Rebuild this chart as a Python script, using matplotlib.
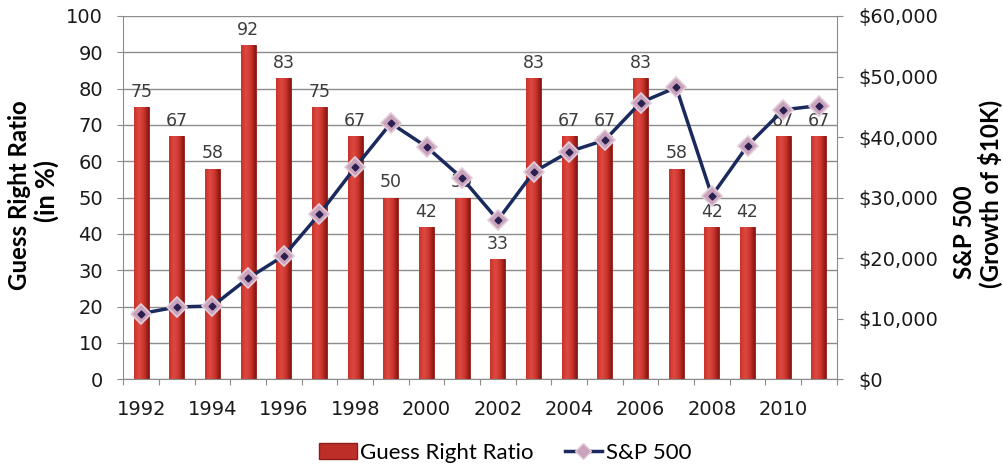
import matplotlib
matplotlib.use("Agg")
import matplotlib.pyplot as plt
import numpy as np
from matplotlib.lines import Line2D
from matplotlib.patches import Patch
from matplotlib.colors import LinearSegmentedColormap

years = [1992, 1993, 1994, 1995, 1996, 1997, 1998, 1999, 2000, 2001,
         2002, 2003, 2004, 2005, 2006, 2007, 2008, 2009, 2010, 2011]
guess_right = [75, 67, 58, 92, 83, 75, 67, 50, 42, 50,
               33, 83, 67, 67, 83, 58, 42, 42, 67, 67]
sp500 = [10850, 11950, 12100, 16700, 20400, 27300, 35000, 42300, 38400, 33200,
         26300, 34200, 37600, 39500, 45700, 48200, 30300, 38600, 44500, 45200]
left_ticks = list(range(0, 101, 10))
right_ticks = list(range(0, 60001, 10000))

plt.rcParams['font.family'] = ['DejaVu Sans']
TITLE_FONT = ['Lato', 'DejaVu Sans']

fig = plt.figure(figsize=(10.04, 4.66), dpi=100)
ax = fig.add_axes([0.1228, 0.186, 0.7106, 0.7797])
ax2 = ax.twinx()

x = np.arange(len(years))
bw = 0.42
bars = ax.bar(x, guess_right, width=bw, color='#BE2E28', edgecolor='#8E1C18', linewidth=0.6, zorder=2)

grad = np.linspace(0, 1, 64)
shade = np.clip(1 - np.abs(grad - 0.35) * 1.5, 0, 1)[None, :]
cmap = LinearSegmentedColormap.from_list('bar', ['#861510', '#C9352D', '#DE4A40'])
for b in bars:
    bx, by = b.get_x(), b.get_y()
    im = ax.imshow(shade, cmap=cmap, aspect='auto',
                   extent=[bx, bx + b.get_width(), by, by + b.get_height()],
                   zorder=2.1, interpolation='bicubic')
    im.set_clip_path(b)

for xi, v in zip(x, guess_right):
    ax.text(xi, v + 2.8, str(v), ha='center', va='baseline', fontsize=12.5,
            color='#3C3C3C', zorder=5)

ax.set_xlim(-0.5, len(years) - 0.5)
ax.set_ylim(0, 100)
ax.set_yticks(left_ticks)
ax.set_yticklabels([str(t) for t in left_ticks], fontsize=14, color='#1A1A1A')
ax.yaxis.grid(True, color='#8C8C8C', linewidth=1.0, zorder=0)
ax.set_axisbelow(True)

ax.set_xticks(np.arange(-0.5, len(years), 1.0))
ax.set_xticklabels([])
ax.set_xticks(x[::2], minor=True)
ax.set_xticklabels([str(y) for y in years[::2]], minor=True, fontsize=14, color='#1A1A1A')
ax.tick_params(axis='x', which='minor', length=0, pad=15)
ax.tick_params(axis='x', which='major', length=4.5, color='#8C8C8C')
ax.tick_params(axis='y', length=4.5, color='#8C8C8C', pad=10)

for s in ['top', 'right']:
    ax.spines[s].set_visible(False)
for s in ['left', 'bottom']:
    ax.spines[s].set_color('#8C8C8C')

ax2.plot(x, sp500, color='#1B2A5C', linewidth=2.5, marker='D', markersize=10,
         markerfacecolor='#C9A3BC', markeredgecolor='#E3CBDA', markeredgewidth=1.2, zorder=6)
ax2.plot(x, sp500, linestyle='none', marker='D', markersize=3.5, color='#2A1F4F', zorder=7)
ax2.set_ylim(0, 60000)
ax2.set_yticks(right_ticks)
ax2.set_yticklabels(['\\$' + format(t, ',') for t in right_ticks], fontsize=14, color='#1A1A1A')
ax2.tick_params(axis='y', length=4.5, color='#8C8C8C', pad=11)
for s in ['top', 'left', 'bottom']:
    ax2.spines[s].set_visible(False)
ax2.spines['right'].set_color('#8C8C8C')

renderer = fig.canvas.get_renderer()
W, H = fig.bbox.width, fig.bbox.height


def title_line(s, cx, cy, length_px=None, size=None):
    t = fig.text(cx / W, 1 - cy / H, s, rotation=90, ha='center', va='center',
                 fontsize=size or 16, fontweight='bold', family=TITLE_FONT)
    if length_px:
        for _ in range(3):
            ext = t.get_window_extent(renderer)
            t.set_fontsize(t.get_fontsize() * length_px / ext.height)
    return t


title_line('Guess Right Ratio', 20, 195.5, 190)
title_line('(in %)', 46, 190.5, 62)
t2 = title_line('(Growth of \\$10K)', 990, 193.5, 188)
title_line('S&P 500', 964, 232, size=t2.get_fontsize())

handles = [Patch(facecolor='#BE2E28', edgecolor='#8E1C18'),
           Line2D([0], [0], color='#1B2A5C', linewidth=2.5, marker='D', markersize=8,
                  markerfacecolor='#C9A3BC', markeredgecolor='#E3CBDA')]
fig.legend(handles, ['Guess Right Ratio', 'S&P 500'], loc='center', bbox_to_anchor=(0.503, 0.028),
           ncol=2, frameon=False, handlelength=1.7, handletextpad=0.15, columnspacing=1.4,
           prop={'family': TITLE_FONT, 'size': 16})

fig.savefig('out.png', dpi=100)
